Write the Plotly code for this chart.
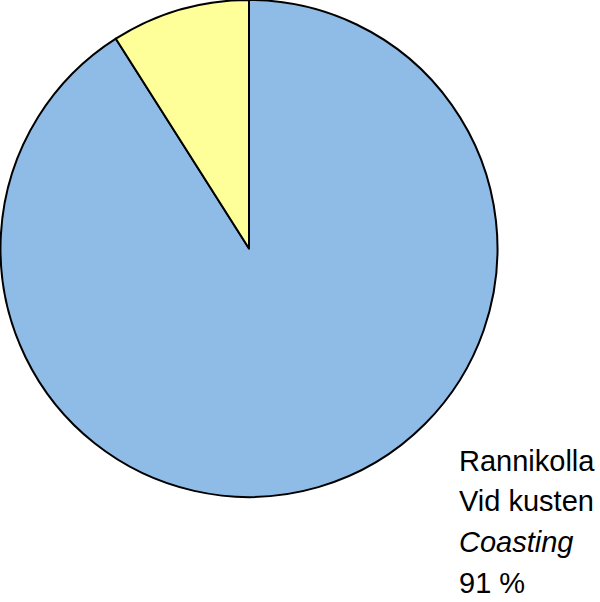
import plotly.graph_objects as go

# Pie data
labels = ["Rannikolla / Vid kusten / Coasting", "Muu"]
values = [91, 9]
colors = ["#8FBCE6", "#FFFF99"]

# Label lines shown at bottom right
label_lines = ["Rannikolla", "Vid kusten", "<i>Coasting</i>", "91 %"]
label_px = [461, 501, 542, 583]

W, H = 600, 602

fig = go.Figure(go.Pie(
    labels=labels,
    values=values,
    sort=False,
    direction="clockwise",
    rotation=0,
    marker=dict(colors=colors, line=dict(color="black", width=2)),
    textinfo="none",
    hoverinfo="label+percent",
    showlegend=False,
    domain=dict(x=[0, 498 / W], y=[1 - 497 / H, 1]),
))

for txt, py in zip(label_lines, label_px):
    fig.add_annotation(
        x=457 / W, y=1 - py / H, xref="paper", yref="paper",
        xanchor="left", yanchor="middle", showarrow=False,
        text=txt, font=dict(family="Liberation Sans, Arial", size=29, color="black"),
    )

fig.update_layout(
    width=W, height=H,
    margin=dict(l=0, r=0, t=0, b=0),
    paper_bgcolor="white",
    plot_bgcolor="white",
)

# drop the default page margin so the figure sits at the window corner
fig.write_html("out.html", config={"displayModeBar": False},
               post_script="document.body.style.margin='0';")
